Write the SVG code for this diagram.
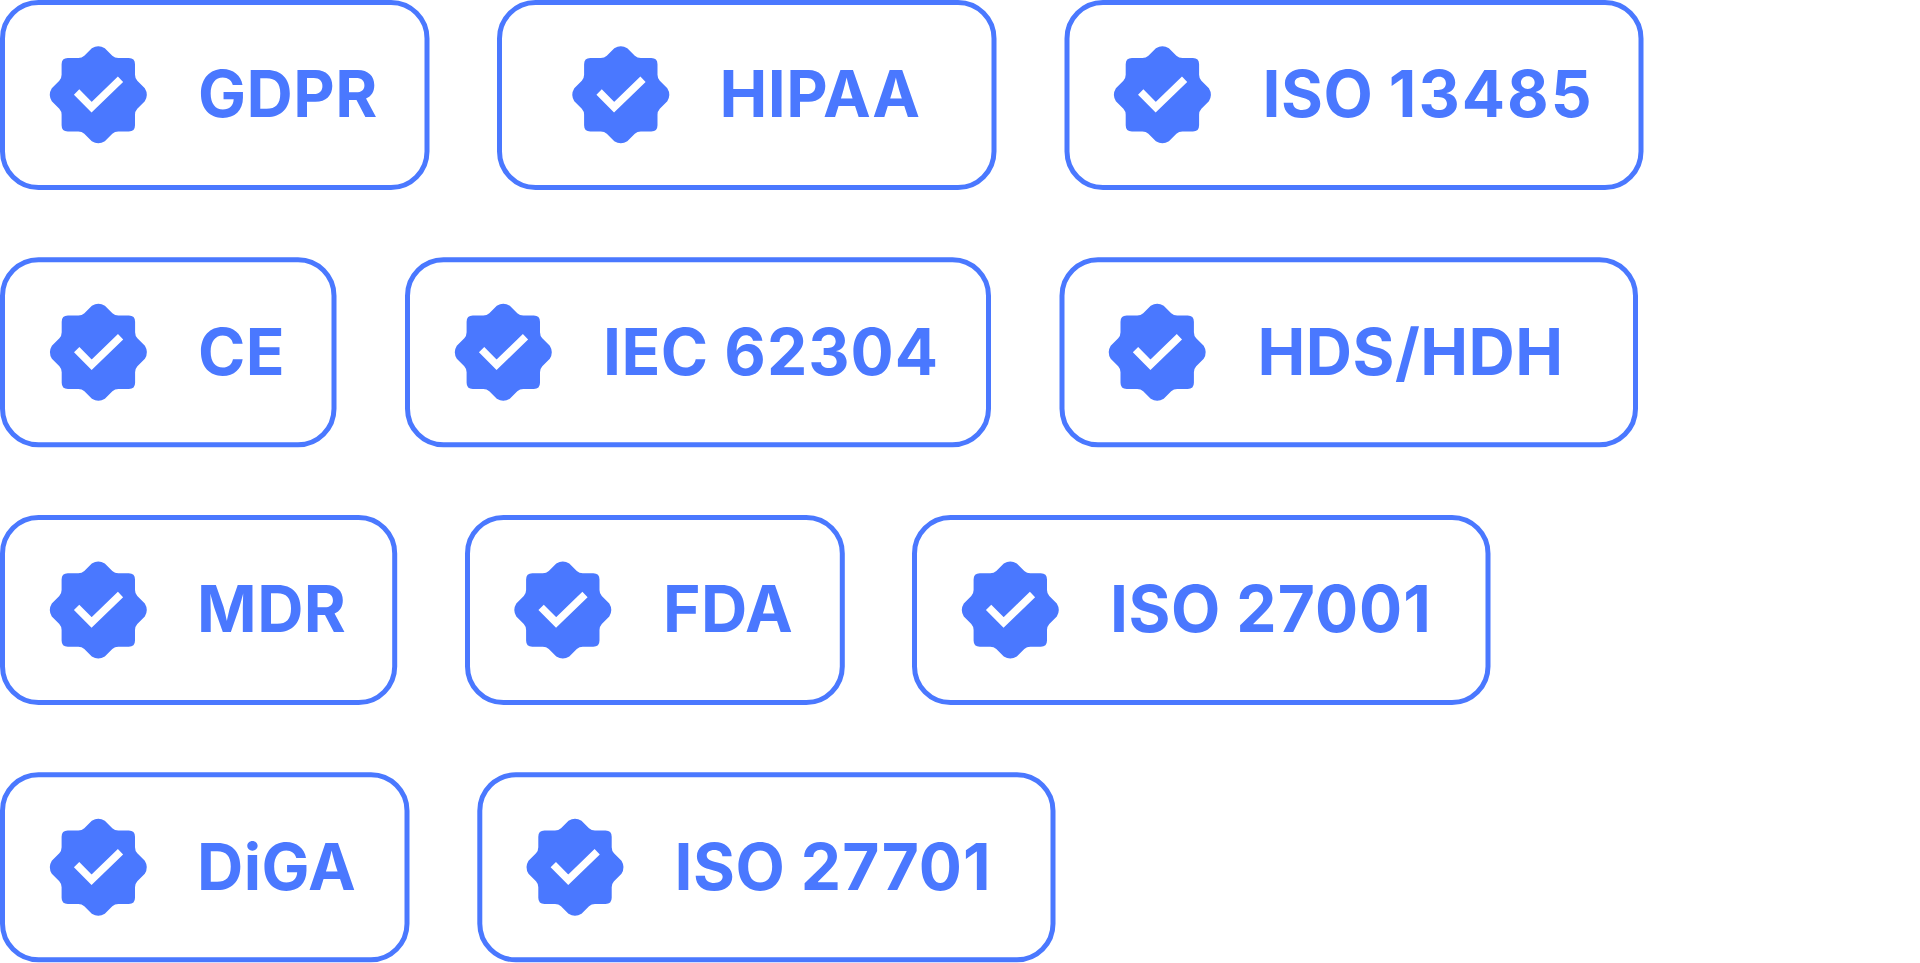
<svg xmlns="http://www.w3.org/2000/svg" width="1920" height="963" viewBox="0 0 1920 963">
<style>
.b{fill:#fff;stroke:#4a78ff;stroke-width:5}
.t{font-family:Inter,"Liberation Sans",sans-serif;font-size:64px;font-weight:700;fill:#4a78ff;letter-spacing:.5px}
.d{letter-spacing:1px}
.e{letter-spacing:2px}
.s{fill:#4a78ff}
.c{fill:none;stroke:#fff;stroke-width:7.500}
</style>
<defs>
<g id="badge">
<path class="s" d="M-6.500,-46.500Q0,-50.500 6.500,-46.500L14,-39Q16.500,-36.700 20,-36.700H30.500Q36.700,-36.700 36.700,-30.500V-20Q36.700,-16.500 39,-14L46.500,-6.500Q50.500,0 46.500,6.500L39,14Q36.700,16.500 36.700,20V30.500Q36.700,36.700 30.500,36.700H20Q16.500,36.700 14,39L6.500,46.500Q0,50.500 -6.500,46.500L-14,39Q-16.500,36.700 -20,36.700H-30.500Q-36.700,36.700 -36.700,30.500V20Q-36.700,16.500 -39,14L-46.500,6.500Q-50.500,0 -46.500,-6.500L-39,-14Q-36.700,-16.500 -36.700,-20V-30.500Q-36.700,-36.700 -30.500,-36.700H-20Q-16.500,-36.700 -14,-39Z"/>
<path class="c" d="M-21.700,-2.700L-6.700,12.500 22.200,-15.500"/>
</g>
</defs>
<g id="n1"><rect class="b" x="2.500" y="2.500" width="424.500" height="185" rx="36"/><use href="#badge" x="98.300" y="94.700"/><text class="t" x="198" y="116.700">GDPR</text></g>
<g id="n2"><rect class="b" x="499.500" y="2.500" width="494.500" height="185" rx="36"/><use href="#badge" x="620.800" y="94.700"/><text class="t" x="719.500" y="116.700">HIPAA</text></g>
<g id="n3"><rect class="b" x="1067" y="2.500" width="574" height="185" rx="36"/><use href="#badge" x="1162.400" y="94.700"/><text class="t" x="1262.500" y="116.700">ISO <tspan class="e">13485</tspan></text></g>
<g id="n4"><rect class="b" x="2.500" y="259.800" width="331.500" height="185" rx="36"/><use href="#badge" x="98.400" y="352.300"/><text class="t" x="198" y="374.700">CE</text></g>
<g id="n5"><rect class="b" x="407.500" y="259.800" width="581" height="185" rx="36"/><use href="#badge" x="503.300" y="352.300"/><text class="t" x="603" y="374.700">IEC <tspan class="d">62304</tspan></text></g>
<g id="n6"><rect class="b" x="1062" y="259.800" width="573.500" height="185" rx="36"/><use href="#badge" x="1157.200" y="352.300"/><text class="t" x="1257.500" y="374.700">HDS/HDH</text></g>
<g id="n7"><rect class="b" x="2.500" y="517.500" width="392.200" height="185" rx="36"/><use href="#badge" x="98.300" y="610"/><text class="t" x="197" y="632">MDR</text></g>
<g id="n8"><rect class="b" x="467.500" y="517.500" width="374.800" height="185" rx="36"/><use href="#badge" x="562.800" y="610"/><text class="t" x="663" y="632">FDA</text></g>
<g id="n9"><rect class="b" x="914.500" y="517.500" width="573.500" height="185" rx="36"/><use href="#badge" x="1010.300" y="610"/><text class="t" x="1110" y="632">ISO <tspan class="d">27001</tspan></text></g>
<g id="n10"><rect class="b" x="2.500" y="774.800" width="404.500" height="185" rx="36"/><use href="#badge" x="98.300" y="867.300"/><text class="t" x="197" y="890">DiGA</text></g>
<g id="n11"><rect class="b" x="479.800" y="774.800" width="573.200" height="185" rx="36"/><use href="#badge" x="575" y="867.300"/><text class="t" x="674.500" y="890">ISO <tspan class="d">27701</tspan></text></g>
</svg>
